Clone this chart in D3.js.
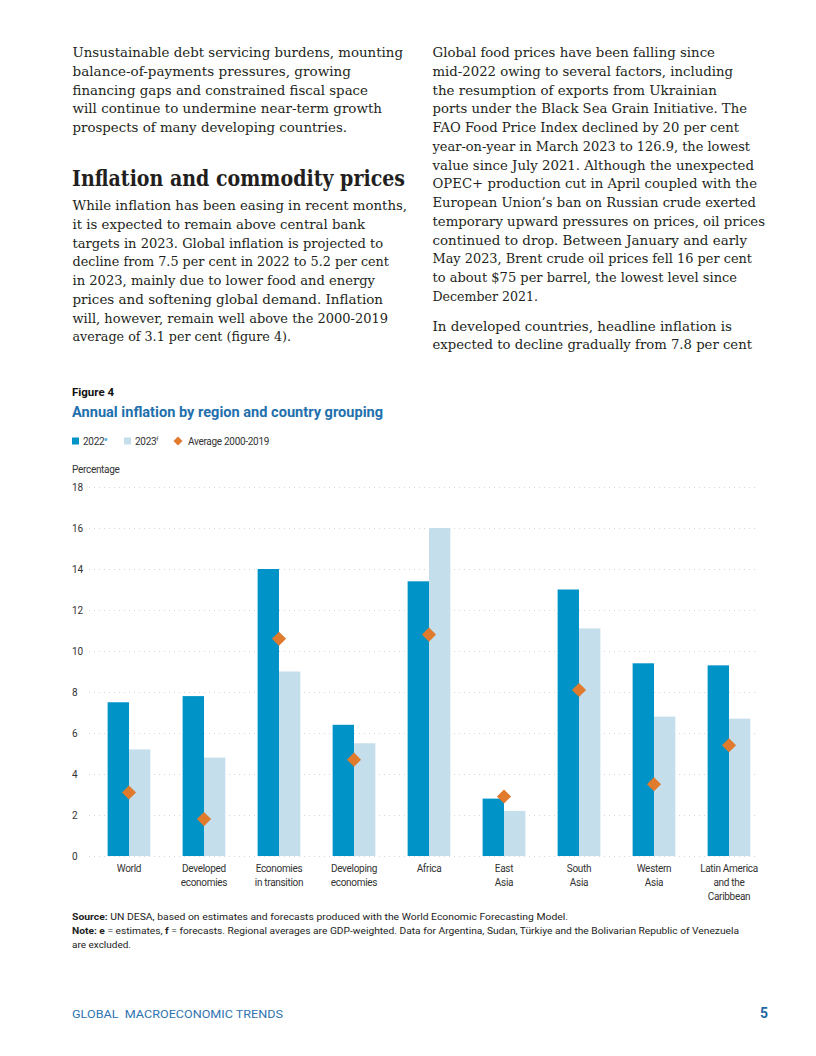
<!DOCTYPE html>
<html>
<head>
<meta charset="utf-8">
<script src="https://cdn.jsdelivr.net/npm/d3@7"></script>
<style>
  html, body { margin: 0; padding: 0; background: #fff; }
  svg { display: block; }
</style>
</head>
<body>
<svg id="page" width="816" height="1056"></svg>
<script>
// ---------------- Chart data ----------------
const categories = ["World", "Developed\neconomies", "Economies\nin transition", "Developing\neconomies",
  "Africa", "East\nAsia", "South\nAsia", "Western\nAsia", "Latin America\nand the\nCaribbean"];
const values2022 = [7.5, 7.8, 14.0, 6.4, 13.4, 2.8, 13.0, 9.4, 9.3];
const values2023 = [5.2, 4.8, 9.0, 5.5, 16.0, 2.2, 11.1, 6.8, 6.7];
const average2000_2019 = [3.1, 1.8, 10.6, 4.7, 10.8, 2.9, 8.1, 3.5, 5.4];
const yTicks = [0, 2, 4, 6, 8, 10, 12, 14, 16, 18];
const seriesNames = ["2022", "2023"];

// ---------------- Page text ----------------
const leftPara1 = [
  "Unsustainable debt servicing burdens, mounting",
  "balance-of-payments pressures, growing",
  "financing gaps and constrained fiscal space",
  "will continue to undermine near-term growth",
  "prospects of many developing countries."];
const leftPara1End = [403, 351, 368, 382, 347];
const heading = "Inflation and commodity prices";
const leftPara2 = [
  "While inflation has been easing in recent months,",
  "it is expected to remain above central bank",
  "targets in 2023. Global inflation is projected to",
  "decline from 7.5 per cent in 2022 to 5.2 per cent",
  "in 2023, mainly due to lower food and energy",
  "prices and softening global demand. Inflation",
  "will, however, remain well above the 2000-2019",
  "average of 3.1 per cent (figure 4)."];
const leftPara2End = [407, 365, 383, 389, 375, 383, 388, 291];
const rightPara1 = [
  "Global food prices have been falling since",
  "mid-2022 owing to several factors, including",
  "the resumption of exports from Ukrainian",
  "ports under the Black Sea Grain Initiative. The",
  "FAO Food Price Index declined by 20 per cent",
  "year-on-year in March 2023 to 126.9, the lowest",
  "value since July 2021. Although the unexpected",
  "OPEC+ production cut in April coupled with the",
  "European Union\u2019s ban on Russian crude exerted",
  "temporary upward pressures on prices, oil prices",
  "continued to drop. Between January and early",
  "May 2023, Brent crude oil prices fell 16 per cent",
  "to about $75 per barrel, the lowest level since",
  "December 2021."];
const rightPara1End = [715, 733, 717, 747, 739, 750, 754, 757, 756, 765, 747, 752, 737, 538];
const rightPara2 = [
  "In developed countries, headline inflation is",
  "expected to decline gradually from 7.8 per cent"];
const rightPara2End = [732, 752];

const svg = d3.select("#page");
const serif = "'DejaVu Serif', 'Liberation Serif', serif";
const sans = "Roboto, 'Liberation Sans', sans-serif";
const textColor = "#231f20";
const LH = 18.75;
const condensed = -0.3;

function fitText(sel, width) {
  const n = sel.node();
  const w = n.getComputedTextLength();
  if (Math.abs(w - width) > 0.5) {
    sel.attr("textLength", width).attr("lengthAdjust", "spacingAndGlyphs");
  }
}

function paragraph(lines, ends, x, y0, size) {
  lines.forEach((t, i) => {
    const s = svg.append("text")
      .attr("x", x).attr("y", y0 + i * LH)
      .attr("font-family", serif).attr("font-size", size)
      .attr("fill", textColor).text(t);
    fitText(s, ends[i] - x);
  });
}

paragraph(leftPara1, leftPara1End, 72.5, 57, 13.6);
const h = svg.append("text").attr("x", 72).attr("y", 186)
  .attr("font-family", serif).attr("font-weight", "bold").attr("font-size", 21.5)
  .attr("fill", textColor).text(heading);
fitText(h, 405 - 72);
paragraph(leftPara2, leftPara2End, 72.5, 210, 13.6);
paragraph(rightPara1, rightPara1End, 432.5, 57, 13.6);
paragraph(rightPara2, rightPara2End, 432.5, 330.5, 13.6);

// ---------------- Figure header ----------------
const f4 = svg.append("text").attr("x", 72).attr("y", 396)
  .attr("font-family", sans).attr("font-weight", "bold").attr("font-size", 11)
  .attr("fill", "#111").text("Figure 4");
fitText(f4, 114 - 72);
const title = svg.append("text").attr("x", 72).attr("y", 417)
  .attr("font-family", sans).attr("font-weight", "bold").attr("font-size", 14.5)
  .attr("fill", "#1f70ad").text("Annual inflation by region and country grouping");
fitText(title, 383 - 72);

// ---------------- Colours ----------------
const color2022 = "#0093c7";
const color2023 = "#c5deec";
const colorAvg = "#e07a2c";

// ---------------- Legend ----------------
const legend = svg.append("g").attr("font-family", sans).attr("font-size", 10)
  .attr("letter-spacing", condensed).attr("fill", "#333");
legend.append("rect").attr("x", 72).attr("y", 437.5).attr("width", 7).attr("height", 7).attr("fill", color2022);
const l1 = legend.append("text").attr("x", 83).attr("y", 445);
l1.append("tspan").text(seriesNames[0]);
l1.append("tspan").attr("font-size", 6).attr("dy", -4).attr("fill", color2022).text("e");
legend.append("rect").attr("x", 124).attr("y", 437.5).attr("width", 7).attr("height", 7).attr("fill", color2023);
const l2 = legend.append("text").attr("x", 135).attr("y", 445);
l2.append("tspan").text(seriesNames[1]);
l2.append("tspan").attr("font-size", 6).attr("dy", -4).text("f");
legend.append("path").attr("d", d3.symbol(d3.symbolSquare, 40)())
  .attr("transform", "translate(178,441) rotate(45)").attr("fill", colorAvg);
legend.append("text").attr("x", 188).attr("y", 445).text("Average 2000-2019");

svg.append("text").attr("x", 72).attr("y", 473).attr("font-family", sans)
  .attr("font-size", 10).attr("letter-spacing", condensed).attr("fill", "#333").text("Percentage");

// ---------------- Scales ----------------
const y = d3.scaleLinear().domain([0, 18]).range([856, 487]);
const x = d3.scaleBand().domain(categories).range([91.5, 766.5])
  .paddingInner(0.43).paddingOuter(0.215);
const xs = d3.scaleBand().domain(seriesNames).range([0, x.bandwidth()]);

// gridlines
const grid = svg.append("g").attr("transform", "translate(89,0)")
  .call(d3.axisRight(y).tickValues(yTicks).tickSize(667).tickFormat(""));
grid.select(".domain").remove();
grid.selectAll("line").attr("stroke", "#d6d6d6").attr("stroke-width", 1)
  .attr("stroke-dasharray", "1,4");

// y axis labels
const yAxis = svg.append("g").attr("transform", "translate(72,0)")
  .call(d3.axisLeft(y).tickValues(yTicks).tickSize(0).tickFormat(d3.format("d")));
yAxis.select(".domain").remove();
yAxis.selectAll("text").attr("x", 0).attr("text-anchor", "start")
  .attr("font-family", sans).attr("font-size", 10).attr("fill", "#333");

// bars
const rows = categories.map((c, i) => ({ c, v: [values2022[i], values2023[i]], a: average2000_2019[i] }));
const groups = svg.append("g").selectAll("g").data(rows).join("g")
  .attr("transform", d => `translate(${x(d.c)},0)`);
groups.selectAll("rect").data(d => d.v.map((v, k) => ({ k, v }))).join("rect")
  .attr("x", d => xs(seriesNames[d.k]))
  .attr("width", xs.bandwidth())
  .attr("y", d => y(d.v))
  .attr("height", d => y(0) - y(d.v))
  .attr("fill", d => d.k === 0 ? color2022 : color2023);

// averages
svg.append("g").selectAll("path").data(rows).join("path")
  .attr("d", d3.symbol(d3.symbolSquare, 100)())
  .attr("transform", d => `translate(${x(d.c) + x.bandwidth() / 2},${y(d.a)}) rotate(45)`)
  .attr("fill", colorAvg);

// x labels
const xl = svg.append("g").attr("font-family", sans).attr("font-size", 10)
  .attr("letter-spacing", condensed).attr("fill", "#333").attr("text-anchor", "middle");
rows.forEach(d => {
  const cx = x(d.c) + x.bandwidth() / 2;
  const t = xl.append("text").attr("x", cx).attr("y", 872);
  d.c.split("\n").forEach((line, i) => {
    t.append("tspan").attr("x", cx).attr("dy", i === 0 ? 0 : 14).text(line);
  });
});

// ---------------- Footer notes ----------------
const notes = svg.append("g").attr("font-family", sans).attr("font-size", 9.6).attr("fill", "#222");
const s1 = notes.append("text").attr("x", 72).attr("y", 920);
s1.append("tspan").attr("font-weight", "bold").text("Source: ");
s1.append("tspan").text("UN DESA, based on estimates and forecasts produced with the World Economic Forecasting Model.");
fitText(s1, 568 - 72);
const s2 = notes.append("text").attr("x", 72).attr("y", 934);
s2.append("tspan").attr("font-weight", "bold").text("Note: e");
s2.append("tspan").text(" = estimates, ");
s2.append("tspan").attr("font-weight", "bold").text("f");
s2.append("tspan").text(" = forecasts. Regional averages are GDP-weighted. Data for Argentina, Sudan, T\u00fcrkiye and the Bolivarian Republic of Venezuela");
fitText(s2, 739 - 72);
const s3 = notes.append("text").attr("x", 72).attr("y", 948).text("are excluded.");
fitText(s3, 131 - 72);

const foot = svg.append("text").attr("x", 72).attr("y", 1018).attr("font-family", sans)
  .attr("font-size", 11).attr("fill", "#2e74b0")
  .text("GLOBAL\u00a0 MACROECONOMIC TRENDS");
fitText(foot, 283 - 72);
svg.append("text").attr("x", 768).attr("y", 1018).attr("text-anchor", "end")
  .attr("font-family", sans).attr("font-weight", "bold").attr("font-size", 14)
  .attr("fill", "#1f6aa5").text("5");
</script>
</body>
</html>
